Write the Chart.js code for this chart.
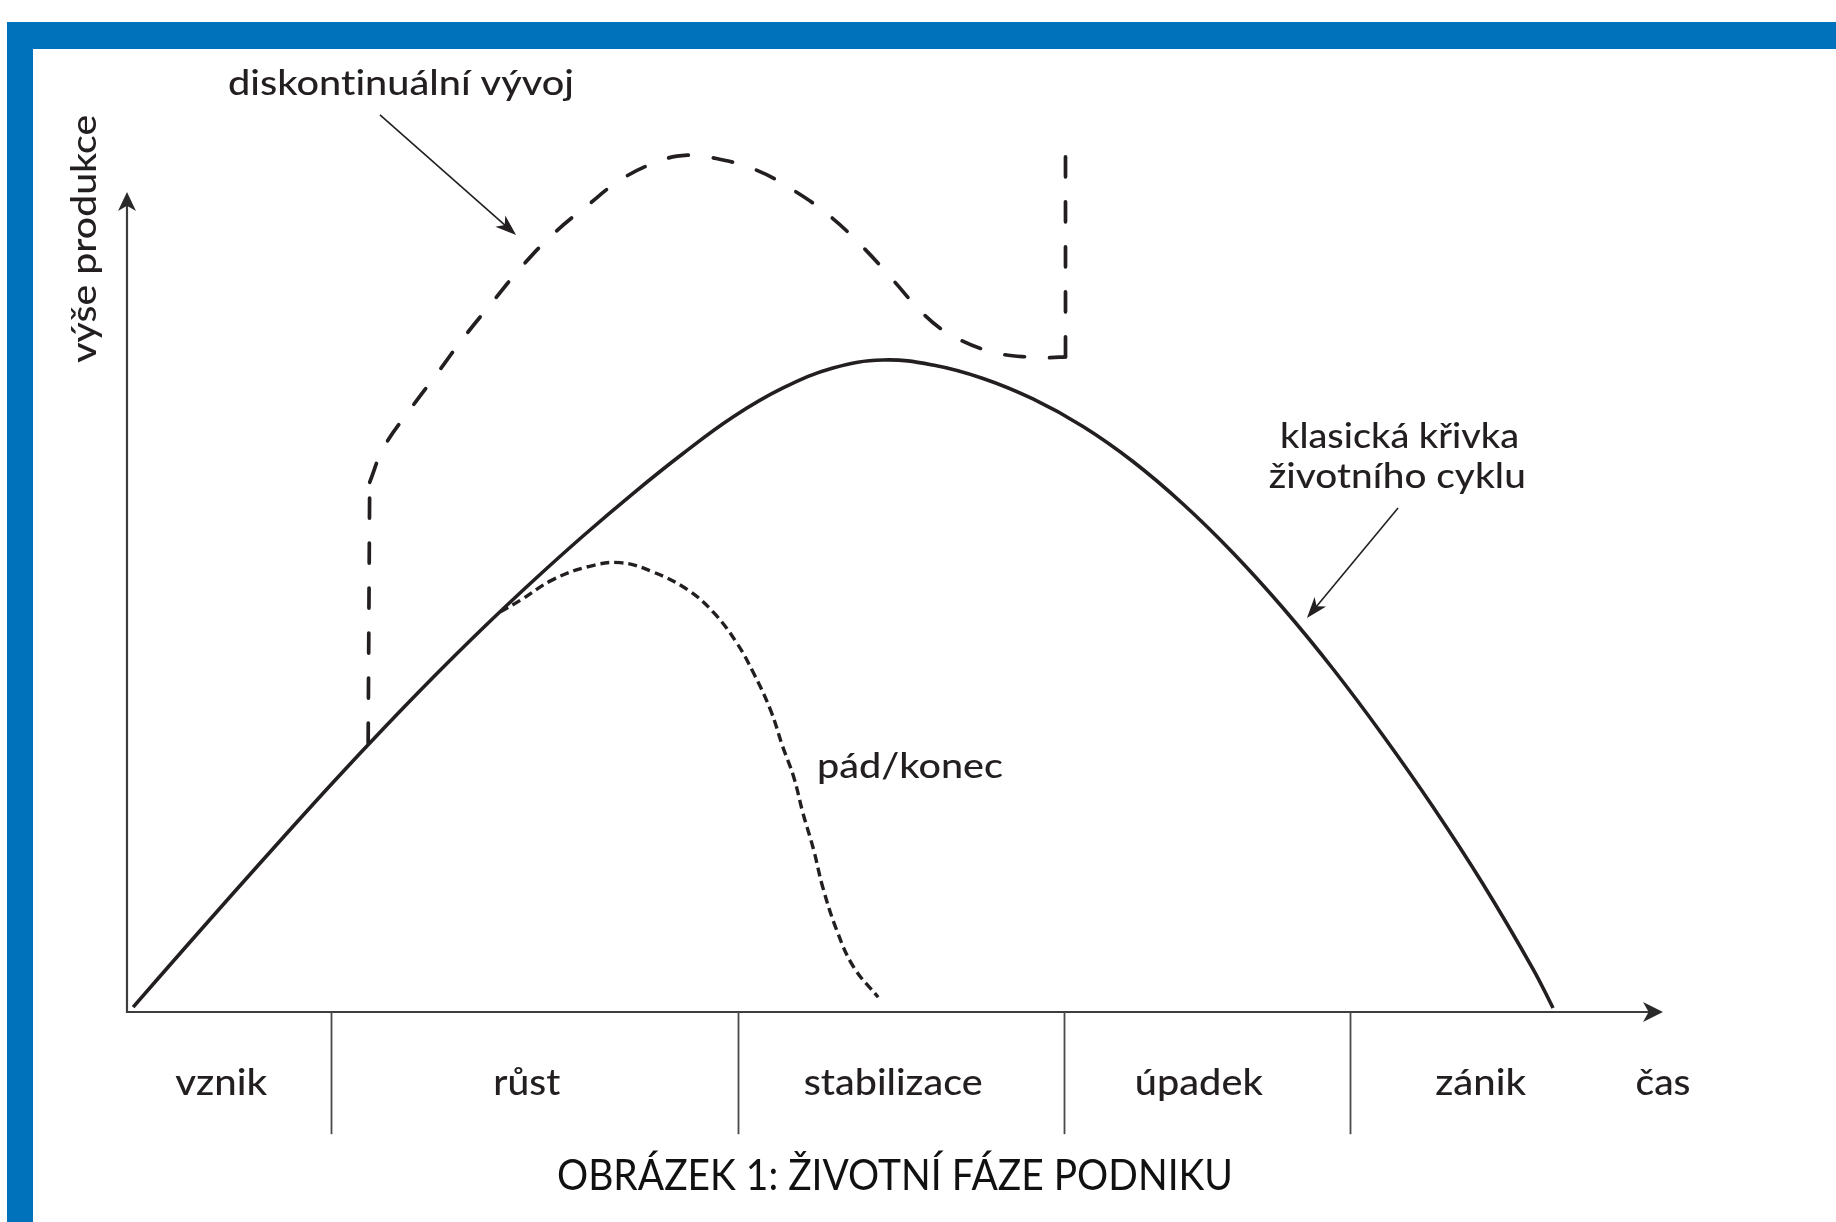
<!DOCTYPE html>
<html lang="cs">
<head>
<meta charset="utf-8">
<title>Životní fáze podniku</title>
<script src="https://cdn.jsdelivr.net/npm/chart.js@4.4.0/dist/chart.umd.min.js"></script>
<style>
  html, body { margin: 0; padding: 0; background: #fff; overflow: hidden; }
  #frame { position: absolute; left: 7px; top: 22px; right: 0; bottom: 0;
           border-left: 26px solid #0072bc; border-top: 27px solid #0072bc; }
  #graph { position: absolute; left: 0; top: 0; }
</style>
</head>
<body>
<div id="frame"></div>
<canvas id="graph" width="1836" height="1222"></canvas>
<script>
// phases of the company life (x = time 0..100, arrow tip at 100)
const phases = ['vznik', 'růst', 'stabilizace', 'úpadek', 'zánik'];
const phaseEdges = [0, 13.3, 39.8, 61.0, 79.6, 97.7];
const timeLabel = 'čas';
const valueLabel = 'výše produkce';
const caption = 'OBRÁZEK 1: ŽIVOTNÍ FÁZE PODNIKU';

// klasická křivka životního cyklu
const classicX = [0.4, 3.65, 6.9, 10.16, 13.41, 16.67, 19.92, 23.18, 26.43, 29.69, 32.94, 36.2, 39.45, 42.71, 45.96, 49.22,
                  52.47, 55.73, 58.98, 62.24, 65.49, 68.75, 72.01, 75.26, 78.52, 81.77, 85.03, 88.28, 91.54, 92.84];
const classicY = [0.6, 7.56, 14.45, 21.28, 27.99, 34.51, 40.79, 46.83, 52.56, 58.05, 63.23, 68.11, 72.56, 76.1, 78.54, 79.51,
                  78.9, 77.26, 74.76, 71.4, 67.13, 61.95, 55.98, 49.27, 41.83, 33.72, 25.0, 15.61, 5.24, 0.49];

// diskontinuální vývoj: skok nahoru, oblouk, skok nahoru
const jumpUpX = [15.7, 15.8];
const jumpUpY = [32.8, 64.6];
const leapX = [15.8, 16.7, 18.4, 20.2, 21.9, 23.8, 25.7, 27.7, 30.0, 32.3, 35.0, 36.5, 37.8, 40.8, 43.4, 45.8, 47.9, 49.9, 51.6, 53.0, 54.3, 55.6, 57.0, 58.5, 60.1, 61.1];
const leapY = [64.6, 68.8, 73.4, 77.9, 82.2, 86.6, 90.9, 94.8, 98.4, 101.7, 104.0, 104.5, 104.3, 102.8, 100.2, 97.0, 93.3, 89.2, 85.6, 83.3, 81.9, 80.9, 80.2, 79.9, 79.8, 79.9];
const jumpEndX = [61.1, 61.1];
const jumpEndY = [79.9, 104.9];

// pád/konec
const fallX = [24.3, 25.6, 27.7, 30.0, 32.1, 34.2, 36.5, 38.2, 39.7, 40.8, 41.9, 42.7, 43.4, 44.0, 44.7, 45.3, 46.2, 47.3, 48.9];
const fallY = [48.8, 50.2, 52.7, 54.3, 54.8, 53.7, 51.5, 48.7, 45.0, 41.3, 36.8, 32.3, 28.7, 24.3, 19.8, 15.2, 10.0, 5.5, 1.8];

const ink = '#231f20';

function pts(xs, ys) {
    return xs.map((v, i) => ({x: v, y: ys[i]}));
}

function arrowHead(ctx, x1, y1, x2, y2, len, half) {
    const a = Math.atan2(y2 - y1, x2 - x1);
    ctx.save();
    ctx.translate(x2, y2);
    ctx.rotate(a);
    ctx.beginPath();
    ctx.moveTo(0, 0);
    ctx.lineTo(-len, -half);
    ctx.lineTo(-len * 0.72, 0);
    ctx.lineTo(-len, half);
    ctx.closePath();
    ctx.fill();
    ctx.restore();
}

function arrow(ctx, x1, y1, x2, y2, len, half) {
    const d = Math.hypot(x2 - x1, y2 - y1);
    const k = (d - len * 0.6) / d;
    ctx.beginPath();
    ctx.moveTo(x1, y1);
    ctx.lineTo(x1 + (x2 - x1) * k, y1 + (y2 - y1) * k);
    ctx.stroke();
    arrowHead(ctx, x1, y1, x2, y2, len, half);
}

// text squeezed/stretched to the width it has in the print
function fitText(ctx, text, x, y, w, align, rot) {
    const m = ctx.measureText(text).width;
    ctx.save();
    ctx.translate(x, y);
    if (rot) ctx.rotate(rot);
    ctx.scale(w / m, 1);
    ctx.textAlign = align;
    ctx.fillText(text, 0, 0);
    ctx.restore();
}

const phaseWidths = [92, 67, 179, 128, 91];

const lifecycleDecor = {
    id: 'lifecycleDecor',
    beforeDatasetsDraw(chart) {
        const {ctx, scales: {x, y}} = chart;
        const x0 = x.getPixelForValue(0);
        const y0 = y.getPixelForValue(0);
        ctx.save();
        ctx.strokeStyle = '#3d3d3d';
        ctx.fillStyle = '#2a2a2a';
        ctx.lineWidth = 2.2;
        arrow(ctx, x0, y0 + 1, x0, y.getPixelForValue(100), 19, 9);
        arrow(ctx, x0 - 1, y0, x.getPixelForValue(100), y0, 20, 10);

        // phase dividers under the time axis
        const yDiv = y.getPixelForValue(-14.9);
        ctx.lineWidth = 1.8;
        ctx.strokeStyle = '#4a4a4a';
        phaseEdges.slice(1, -1).forEach(t => {
            const px = Math.round(x.getPixelForValue(t)) + 0.5;
            ctx.beginPath();
            ctx.moveTo(px, y0);
            ctx.lineTo(px, yDiv);
            ctx.stroke();
        });
        ctx.restore();
    },
    afterDatasetsDraw(chart) {
        const {ctx, scales: {x, y}} = chart;
        ctx.save();
        ctx.fillStyle = ink;
        ctx.strokeStyle = ink;
        ctx.textBaseline = 'alphabetic';
        ctx.letterSpacing = '0.01px'; // no "ti" ligature

        ctx.font = '500 37px Lato';
        const base = y.getPixelForValue(-10.1);
        phases.forEach((p, i) => {
            const cx = (x.getPixelForValue(phaseEdges[i]) + x.getPixelForValue(phaseEdges[i + 1])) / 2 - 8;
            fitText(ctx, p, cx, base, phaseWidths[i], 'center');
        });
        fitText(ctx, timeLabel, x.getPixelForValue(100), base, 55, 'center');

        ctx.font = '500 35px Lato';
        fitText(ctx, valueLabel, x.getPixelForValue(-2.0), y.getPixelForValue(94.3), 248, 'center', -Math.PI / 2);
        fitText(ctx, 'diskontinuální vývoj', x.getPixelForValue(17.84), y.getPixelForValue(111.8), 346, 'center');
        fitText(ctx, 'klasická křivka', x.getPixelForValue(82.85), y.getPixelForValue(68.8), 239, 'center');
        fitText(ctx, 'životního cyklu', x.getPixelForValue(82.7), y.getPixelForValue(63.9), 257, 'center');
        fitText(ctx, 'pád/konec', x.getPixelForValue(44.92), y.getPixelForValue(28.5), 186, 'left');

        ctx.font = '42px Lato';
        ctx.fillStyle = '#111';
        fitText(ctx, caption, x.getPixelForValue(50), y.getPixelForValue(-21.7), 676, 'center');

        // pointer arrows of the annotations
        ctx.fillStyle = ink;
        ctx.lineWidth = 1.6;
        arrow(ctx, x.getPixelForValue(16.47), y.getPixelForValue(109.4), x.getPixelForValue(25.33), y.getPixelForValue(94.76), 21, 7.5);
        arrow(ctx, x.getPixelForValue(82.75), y.getPixelForValue(61.46), x.getPixelForValue(76.82), y.getPixelForValue(48.05), 21, 7.5);
        ctx.restore();
    }
};

const dashed = {borderColor: ink, borderWidth: 3.7, borderDash: [20, 25], borderCapStyle: 'round', showLine: true, pointRadius: 0, clip: false};

new Chart(document.getElementById('graph').getContext('2d'), {
    type: 'scatter',
    data: {
        datasets: [
            {label: 'klasická křivka životního cyklu', data: pts(classicX, classicY), borderColor: ink, borderWidth: 3.6,
             showLine: true, pointRadius: 0, tension: 0.4, clip: false},
            {label: 'pád/konec', data: pts(fallX, fallY), borderColor: ink, borderWidth: 3.4, borderDash: [9, 5],
             showLine: true, pointRadius: 0, tension: 0.4, clip: false},
            Object.assign({label: 'skok', data: pts(jumpUpX, jumpUpY), tension: 0}, dashed),
            Object.assign({label: 'diskontinuální vývoj', data: pts(leapX, leapY), tension: 0.4}, dashed),
            Object.assign({label: 'skok 2', data: pts(jumpEndX, jumpEndY), tension: 0}, dashed)
        ]
    },
    options: {
        responsive: false,
        animation: false,
        devicePixelRatio: 1,
        layout: {padding: {left: 127, right: 173, top: 110, bottom: 210}},
        scales: {
            x: {type: 'linear', min: 0, max: 100, display: false},
            y: {type: 'linear', min: 0, max: 110, display: false}
        },
        plugins: {legend: {display: false}, tooltip: {enabled: false}}
    },
    plugins: [lifecycleDecor]
});
</script>
</body>
</html>
